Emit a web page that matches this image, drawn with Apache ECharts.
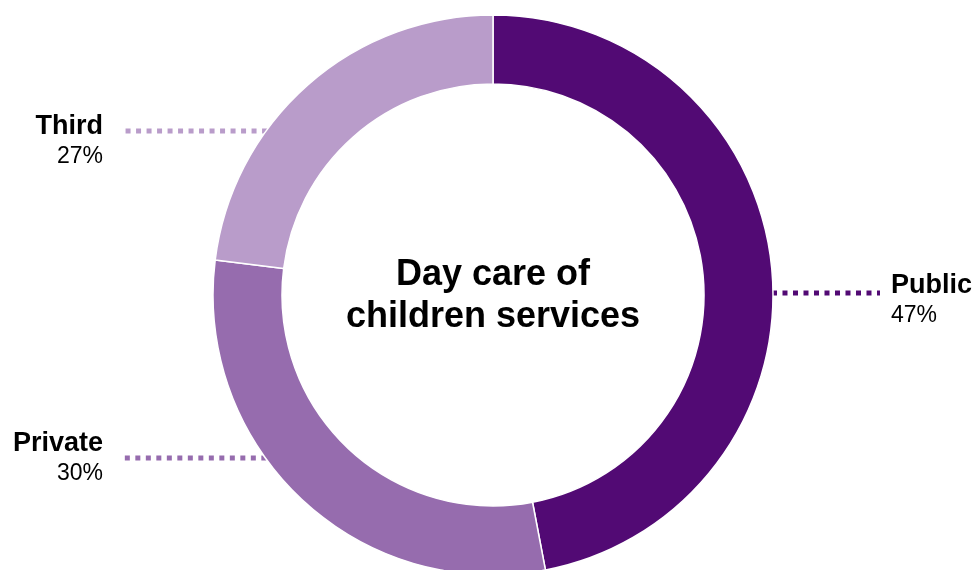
<!DOCTYPE html>
<html>
<head>
<meta charset="utf-8">
<title>Day care of children services</title>
<script src="https://cdn.jsdelivr.net/npm/echarts@6/dist/echarts.min.js"></script>
<style>
    html, body { margin: 0; padding: 0; background: #fff; }
    #myChart { width: 978px; height: 570px; }
</style>
</head>
<body>
<div id="myChart"></div>
<script>
    // data
    const categories = ['Public', 'Private', 'Third'];
    const values = [47, 30, 23];
    const percentLabels = ['47%', '30%', '27%'];
    const colors = ['#520a74', '#966cae', '#b99cca'];

    // donut geometry
    const cx = 493, cy = 295, rOuter = 280, rInner = 211;

    // where each label sits: text anchor, side, y of the dotted guide line
    const labelPos = [
        { x: 891, y: 271, align: 'left', lineY: 293, lineEnd: 880 },
        { x: 103, y: 429, align: 'right', lineY: 458, lineEnd: 121 },
        { x: 103, y: 112, align: 'right', lineY: 131, lineEnd: 121 }
    ];

    function edgeX(y, side) {
        let dy = y - cy;
        let dx = Math.sqrt(rOuter * rOuter - dy * dy);
        return side === 'left' ? cx + dx - 1 : cx - dx + 1;
    }

    let myChart = echarts.init(document.getElementById('myChart'));
    let font = 'Arial, "Liberation Sans", sans-serif';
    let option = {
        animation: false,
        title: {
            text: 'Day care of\nchildren services',
            left: cx - 5,
            top: 249,
            textAlign: 'center',
            textStyle: {
                fontFamily: font,
                fontSize: 36,
                fontWeight: 'bold',
                lineHeight: 42,
                color: '#000'
            }
        },
        series: [
            {
                type: 'pie',
                center: [cx, cy],
                radius: [rInner, rOuter],
                startAngle: 90,
                clockwise: true,
                silent: true,
                itemStyle: {
                    borderColor: '#fff',
                    borderWidth: 1.5
                },
                label: {
                    show: true,
                    position: 'outside',
                    fontFamily: font,
                    formatter: function (p) {
                        return '{name|' + p.name + '}\n{pct|' + percentLabels[p.dataIndex] + '}';
                    },
                    rich: {
                        name: { fontFamily: font, fontSize: 27, fontWeight: 'bold', color: '#000', lineHeight: 30 },
                        pct: { fontFamily: font, fontSize: 23, color: '#000', lineHeight: 30 }
                    }
                },
                labelLine: {
                    show: true,
                    lineStyle: {
                        width: 5,
                        type: [5, 5.5],
                        cap: 'butt'
                    }
                },
                labelLayout: function (params) {
                    let p = labelPos[params.dataIndex];
                    let start = edgeX(p.lineY, p.align);
                    return {
                        x: p.x,
                        y: p.y,
                        align: p.align,
                        verticalAlign: 'top',
                        labelLinePoints: [[start, p.lineY], [(start + p.lineEnd) / 2, p.lineY], [p.lineEnd, p.lineY]]
                    };
                },
                data: categories.map(function (name, i) {
                    return {
                        name: name,
                        value: values[i],
                        itemStyle: { color: colors[i] },
                        labelLine: { lineStyle: { color: colors[i] } }
                    };
                })
            }
        ]
    };
    myChart.setOption(option);
</script>
</body>
</html>
